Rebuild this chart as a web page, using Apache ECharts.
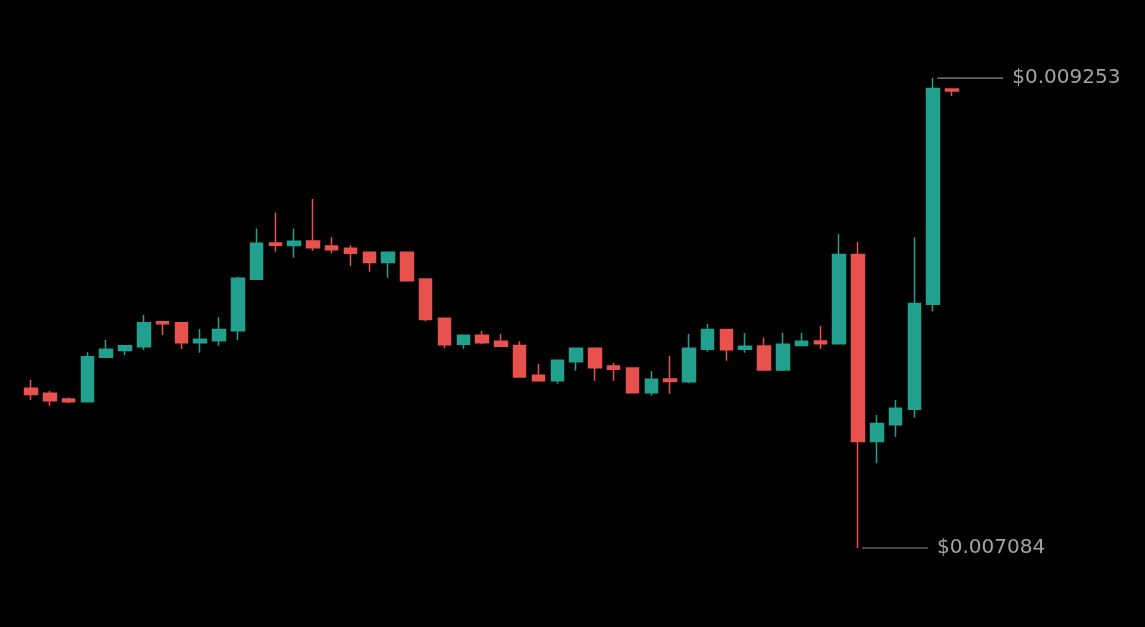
<!DOCTYPE html>
<html>
<head>
<meta charset="utf-8">
<script src="https://cdn.jsdelivr.net/npm/echarts@6/dist/echarts.min.js"></script>
<style>
html,body{margin:0;padding:0;background:#000;}
#chart{width:1145px;height:627px;}
</style>
</head>
<body>
<div id="chart"></div>
<script>
// categories (candle index labels)
var categories = [];
for (var i = 1; i <= 50; i++) categories.push('C' + i);

// open, close, low, high
var opens  = [0.007821,0.007798,0.007772,0.007759,0.007964,0.007995,0.008013,0.008128,0.008124,0.008031,
              0.008041,0.008087,0.008324,0.008492,0.008480,0.008501,0.008478,0.008467,0.008449,0.008402,
              0.008449,0.008325,0.008144,0.008024,0.008066,0.008038,0.008019,0.007881,0.007856,0.007944,
              0.008006,0.007924,0.007915,0.007801,0.007864,0.007851,0.008001,0.008093,0.008001,0.008016,
              0.007905,0.008019,0.008039,0.008027,0.008439,0.007576,0.007653,0.007724,0.008209,0.009202];
var closes = [0.007793,0.007764,0.007759,0.007967,0.008001,0.008018,0.008124,0.008119,0.008031,0.008047,
              0.008093,0.008329,0.008490,0.008481,0.008500,0.008470,0.008461,0.008444,0.008402,0.008449,
              0.008318,0.008139,0.008022,0.008066,0.008031,0.008015,0.007873,0.007856,0.007950,0.008006,
              0.007916,0.007909,0.007801,0.007863,0.007853,0.008006,0.008093,0.007999,0.008015,0.007905,
              0.008024,0.008038,0.008027,0.008439,0.007576,0.007659,0.007729,0.008213,0.009205,0.009193];
var lows   = [0.007767,0.007741,0.007752,0.007757,0.007963,0.007975,0.007998,0.008067,0.008002,0.007985,
              0.008018,0.008044,0.008323,0.008451,0.008424,0.008456,0.008444,0.008385,0.008359,0.008331,
              0.008316,0.008130,0.008006,0.008004,0.008024,0.008014,0.007870,0.007851,0.007842,0.007902,
              0.007856,0.007856,0.007799,0.007787,0.007796,0.007844,0.007990,0.007948,0.007985,0.007904,
              0.007901,0.008018,0.008004,0.008026,0.007084,0.007475,0.007598,0.007685,0.008175,0.009170];
var highs  = [0.007859,0.007809,0.007779,0.007987,0.008044,0.008019,0.008159,0.008132,0.008125,0.008095,
              0.008149,0.008336,0.008559,0.008633,0.008559,0.008695,0.008518,0.008481,0.008450,0.008450,
              0.008450,0.008327,0.008145,0.008067,0.008085,0.008072,0.008038,0.007933,0.007952,0.008007,
              0.008007,0.007939,0.007916,0.007901,0.007970,0.008072,0.008118,0.008095,0.008076,0.008056,
              0.008078,0.008076,0.008108,0.008533,0.008496,0.007698,0.007767,0.008518,0.009253,0.009202];

var candleData = opens.map(function (o, i) { return [o, closes[i], lows[i], highs[i]]; });

var UP = '#22a08e', DOWN = '#e8524e';
var LABEL_COLOR = '#a3a3a3';

var chart = echarts.init(document.getElementById('chart'), null, {renderer: 'canvas'});
chart.setOption({
  backgroundColor: '#000000',
  animation: false,
  grid: {left: 21.6, right: 183.6, top: 46.2, bottom: 60.8},
  xAxis: {
    type: 'category',
    data: categories,
    boundaryGap: true,
    show: false
  },
  yAxis: {
    type: 'value',
    min: 0.0070,
    max: 0.0094,
    show: false,
    splitLine: {show: false}
  },
  series: [{
    type: 'candlestick',
    data: candleData,
    barWidth: 13,
    itemStyle: {
      color: UP,
      color0: DOWN,
      borderColor: UP,
      borderColor0: DOWN,
      borderWidth: 1.5
    },
    markPoint: {
      symbol: 'rect',
      symbolSize: [66, 1.2],
      symbolOffset: [37, 0],
      itemStyle: {color: '#8c8c8c'},
      label: {
        show: true,
        position: 'right',
        distance: 9,
        color: LABEL_COLOR,
        fontSize: 20,
        fontFamily: 'DejaVu Sans',
        formatter: function (p) { return '$' + Number(p.value).toFixed(6); }
      },
      data: [
        {type: 'max', valueDim: 'highest'},
        {type: 'min', valueDim: 'lowest'}
      ]
    }
  }]
});
</script>
</body>
</html>
